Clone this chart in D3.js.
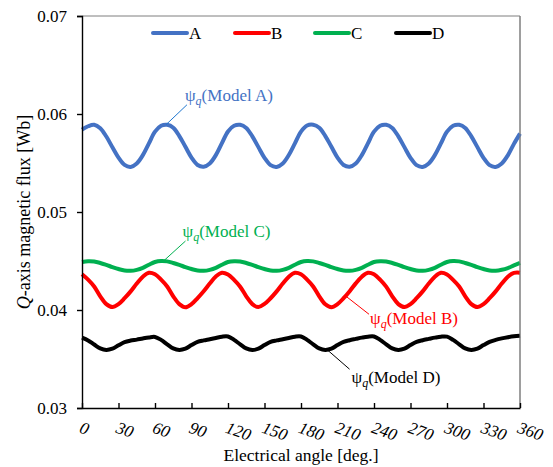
<!DOCTYPE html>
<html>
<head>
<meta charset="utf-8">
<script src="https://cdn.jsdelivr.net/npm/d3@7"></script>
</head>
<body style="margin: 0; background: #fff;">
<svg width="553" height="467"></svg>
<script>
const angles = d3.range(0, 361, 5)

const modelA = [
  0.05840, 0.05875, 0.05890, 0.05855, 0.05770, 0.05660, 0.05555, 0.05480, 0.05460, 0.05495, 0.05580, 0.05700,
  0.05820, 0.05880, 0.05890, 0.05860, 0.05775, 0.05665, 0.05555, 0.05480, 0.05462, 0.05495, 0.05580, 0.05702,
  0.05822, 0.05880, 0.05890, 0.05858, 0.05772, 0.05662, 0.05553, 0.05478, 0.05460, 0.05495, 0.05582, 0.05700,
  0.05820, 0.05882, 0.05890, 0.05860, 0.05775, 0.05665, 0.05555, 0.05480, 0.05462, 0.05495, 0.05580, 0.05700,
  0.05820, 0.05880, 0.05890, 0.05858, 0.05772, 0.05662, 0.05553, 0.05478, 0.05460, 0.05495, 0.05580, 0.05700,
  0.05820, 0.05880, 0.05890, 0.05858, 0.05772, 0.05662, 0.05553, 0.05478, 0.05460, 0.05495, 0.05578, 0.05695,
  0.05800
]

const modelB = [
  0.04365, 0.04310, 0.04240, 0.04140, 0.04060, 0.04030, 0.04060, 0.04120, 0.04190, 0.04270, 0.04340, 0.04380,
  0.04365, 0.04310, 0.04240, 0.04140, 0.04060, 0.04028, 0.04060, 0.04122, 0.04192, 0.04270, 0.04342, 0.04380,
  0.04362, 0.04308, 0.04238, 0.04140, 0.04060, 0.04030, 0.04062, 0.04120, 0.04190, 0.04270, 0.04340, 0.04380,
  0.04365, 0.04310, 0.04240, 0.04140, 0.04058, 0.04028, 0.04060, 0.04120, 0.04192, 0.04272, 0.04340, 0.04380,
  0.04365, 0.04310, 0.04238, 0.04140, 0.04060, 0.04030, 0.04060, 0.04120, 0.04190, 0.04270, 0.04340, 0.04380,
  0.04363, 0.04308, 0.04240, 0.04140, 0.04060, 0.04030, 0.04060, 0.04120, 0.04190, 0.04270, 0.04340, 0.04378,
  0.04380
]

const modelC = [
  0.04490, 0.04498, 0.04495, 0.04480, 0.04460, 0.04438, 0.04418, 0.04403, 0.04400, 0.04410, 0.04430, 0.04462,
  0.04490, 0.04500, 0.04496, 0.04480, 0.04460, 0.04438, 0.04418, 0.04403, 0.04400, 0.04410, 0.04430, 0.04462,
  0.04490, 0.04498, 0.04495, 0.04480, 0.04460, 0.04438, 0.04418, 0.04403, 0.04400, 0.04410, 0.04430, 0.04462,
  0.04490, 0.04500, 0.04496, 0.04480, 0.04460, 0.04438, 0.04418, 0.04403, 0.04400, 0.04410, 0.04430, 0.04462,
  0.04490, 0.04498, 0.04495, 0.04480, 0.04460, 0.04438, 0.04418, 0.04403, 0.04400, 0.04410, 0.04430, 0.04462,
  0.04490, 0.04500, 0.04496, 0.04480, 0.04460, 0.04438, 0.04418, 0.04403, 0.04400, 0.04410, 0.04428, 0.04455,
  0.04480
]

const modelD = [
  0.03718, 0.03690, 0.03648, 0.03608, 0.03592, 0.03605, 0.03640, 0.03672, 0.03688, 0.03698, 0.03710, 0.03720,
  0.03725, 0.03695, 0.03650, 0.03608, 0.03592, 0.03605, 0.03642, 0.03675, 0.03690, 0.03702, 0.03715, 0.03728,
  0.03730, 0.03695, 0.03650, 0.03608, 0.03592, 0.03605, 0.03642, 0.03675, 0.03690, 0.03702, 0.03715, 0.03728,
  0.03730, 0.03695, 0.03650, 0.03608, 0.03592, 0.03605, 0.03642, 0.03675, 0.03692, 0.03705, 0.03718, 0.03728,
  0.03730, 0.03695, 0.03650, 0.03608, 0.03592, 0.03605, 0.03642, 0.03675, 0.03692, 0.03705, 0.03718, 0.03728,
  0.03728, 0.03695, 0.03650, 0.03608, 0.03592, 0.03605, 0.03642, 0.03675, 0.03695, 0.03710, 0.03722, 0.03732,
  0.03738
]

const seriesNames = ['A', 'B', 'C', 'D']
const seriesValues = [modelA, modelB, modelC, modelD]
const seriesColors = ['#4472C4', '#FF0000', '#00B050', '#000000']

const xTicks = d3.range(0, 361, 30)
const yTicks = [0.03, 0.04, 0.05, 0.06, 0.07]

const serif = 'Liberation Serif'

// annotation: anchor on the curve in data units, then pixel offsets for leader end and text
const notes = [
  { model: 'A', angle: 69, value: 0.0589, lx: 21, ly: -20, tx: 19, ty: -24, color: '#4472C4', line: '#1F77D0' },
  { model: 'C', angle: 67, value: 0.0450, lx: 22, ly: -20, tx: 19, ty: -24, color: '#00B050', line: '#00B050' },
  { model: 'B', angle: 217, value: 0.0414, lx: 23, ly: 18, tx: 24, ty: 28, color: '#FF0000', line: '#FF0000' },
  { model: 'D', angle: 201, value: 0.0360, lx: 23, ly: 20, tx: 25, ty: 34, color: '#000000', line: '#000000' }
]

const svg = d3.select('svg')
const width = +svg.attr('width')
const height = +svg.attr('height')
const margin = { top: 16, right: 33, bottom: 59, left: 82 }
const innerWidth = width - margin.left - margin.right
const innerHeight = height - margin.top - margin.bottom

const xScale = d3.scaleLinear()
  .domain([0, 360])
  .range([0, innerWidth])

const yScale = d3.scaleLinear()
  .domain([0.03, 0.07])
  .range([innerHeight, 0])

const g = svg.append('g')
  .attr('transform', `translate(${margin.left}, ${margin.top})`)

// top and right frame
g.append('path')
  .attr('d', `M0,0H${innerWidth}V${innerHeight}`)
  .attr('fill', 'none')
  .attr('stroke', '#7F7F7F')
  .attr('stroke-width', 1)

const line = d3.line()
  .x((d, i) => xScale(angles[i]))
  .y(d => yScale(d))
  .curve(d3.curveCatmullRom.alpha(0.5))

g.selectAll('.series').data(seriesValues)
  .enter().append('path')
  .attr('class', 'series')
  .attr('d', line)
  .attr('fill', 'none')
  .attr('stroke', (d, i) => seriesColors[i])
  .attr('stroke-width', 4)
  .attr('stroke-linejoin', 'round')

// re-draw right frame over the line ends
g.append('line')
  .attr('x1', innerWidth).attr('x2', innerWidth)
  .attr('y1', 0).attr('y2', innerHeight)
  .attr('stroke', '#7F7F7F')

const yAxisGroup = g.append('g')
  .call(d3.axisLeft(yScale).tickValues(yTicks).tickFormat(d3.format('.2f')).tickSizeOuter(0).tickSize(5).tickPadding(10))
  .attr('fill', null)
  .attr('font-family', serif)
  .attr('font-size', 17)

yAxisGroup.selectAll('.domain, .tick line')
  .attr('fill', 'none')
  .attr('stroke', '#000')
  .attr('stroke-width', 1.4)

yAxisGroup.selectAll('.tick text')
  .attr('fill', '#000')

const xAxisGroup = g.append('g')
  .attr('transform', `translate(0, ${innerHeight})`)
  .call(d3.axisBottom(xScale).tickValues(xTicks).tickSize(-5).tickSizeOuter(0))
  .attr('fill', null)
  .attr('font-family', serif)
  .attr('font-size', 17)

xAxisGroup.selectAll('.domain, .tick line')
  .attr('fill', 'none')
  .attr('stroke', '#000')
  .attr('stroke-width', 1.4)

xAxisGroup.selectAll('.tick text')
  .attr('font-style', 'italic')
  .attr('fill', '#000')
  .attr('text-anchor', 'start')
  .attr('dominant-baseline', 'central')
  .attr('y', 0)
  .attr('dy', null)
  .attr('transform', 'translate(-2, 19) rotate(20)')

svg.append('text')
  .attr('x', margin.left + innerWidth / 2)
  .attr('y', 455)
  .attr('text-anchor', 'middle')
  .attr('dominant-baseline', 'central')
  .attr('font-family', serif)
  .attr('font-size', 17.5)
  .text('Electrical angle [deg.]')

const yTitle = svg.append('text')
  .attr('transform', `translate(24, ${margin.top + innerHeight / 2}) rotate(-90)`)
  .attr('text-anchor', 'middle')
  .attr('dominant-baseline', 'central')
  .attr('font-family', serif)
  .attr('font-size', 18)
yTitle.append('tspan').attr('font-style', 'italic').text('Q')
yTitle.append('tspan').text('-axis magnetic flux [Wb]')

// legend
const legendX = [153, 235, 315, 396]
const legend = svg.append('g')
  .selectAll('g').data(seriesNames)
  .enter().append('g')
  .attr('transform', (d, i) => `translate(${legendX[i]}, 33)`)

legend.append('line')
  .attr('x1', 0).attr('x2', 34)
  .attr('stroke', (d, i) => seriesColors[i])
  .attr('stroke-width', 4)
  .attr('stroke-linecap', 'round')

legend.append('text')
  .attr('x', 36)
  .attr('dominant-baseline', 'central')
  .attr('font-family', serif)
  .attr('font-size', 17)
  .text(d => d)

// annotations
const note = g.selectAll('.note').data(notes)
  .enter().append('g')
  .attr('class', 'note')
  .attr('transform', d => `translate(${xScale(d.angle)}, ${yScale(d.value)})`)

note.append('line')
  .attr('x2', d => d.lx)
  .attr('y2', d => d.ly)
  .attr('stroke', d => d.line)
  .attr('stroke-width', 1)

const noteText = note.append('text')
  .attr('x', d => d.tx)
  .attr('y', d => d.ty)
  .attr('font-family', serif)
  .attr('font-size', 17)
  .attr('fill', d => d.color)

noteText.append('tspan').text('ψ')
noteText.append('tspan')
  .attr('font-style', 'italic')
  .attr('font-size', 12)
  .attr('dy', 4)
  .text('q')
noteText.append('tspan')
  .attr('dy', -4)
  .text(d => `(Model ${d.model})`)
</script>
</body>
</html>
